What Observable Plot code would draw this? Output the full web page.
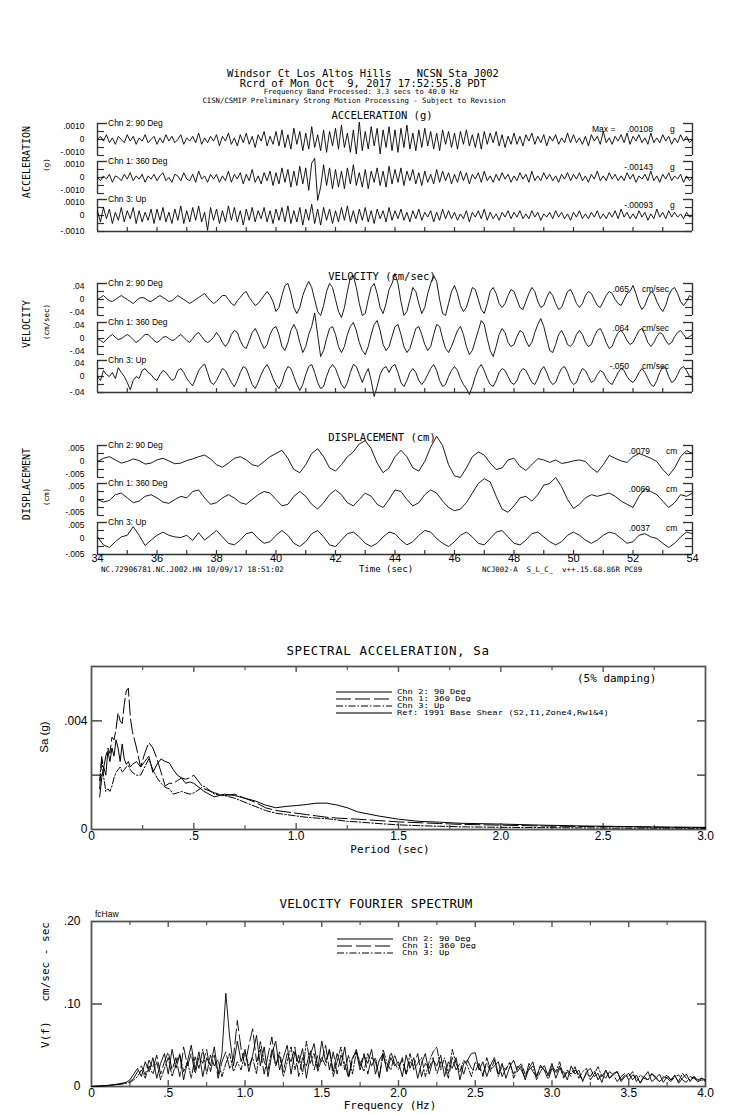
<!DOCTYPE html>
<html><head><meta charset="utf-8">
<script src="https://cdn.jsdelivr.net/npm/d3@7"></script>
<script src="https://cdn.jsdelivr.net/npm/@observablehq/plot@0.6"></script>
<style>
html,body{margin:0;padding:0;background:#fff;}
#root{position:relative;width:739px;height:1115px;overflow:hidden;background:#fff;}
#root svg{position:absolute;}
</style></head><body><div id="root"></div>
<script>
// ---------------- DATA ----------------
const channels = ["Chn 2: 90 Deg", "Chn 1: 360 Deg", "Chn 3: Up"];

// Acceleration traces, 34-54 s, units of 0.0001 g
const accChn2 = [0,2,-1,3,-2,1,-3,2,0,-2,3,-1,2,-3,1,-1,3,-2,0,2,
 -3,1,-2,3,-1,2,-2,0,3,-3,1,-1,2,-2,4,-3,1,-2,2,-1,
 3,-4,2,-1,4,-3,1,-4,3,-2,4,-3,2,-5,3,-1,5,-4,2,-3,
 5,-4,6,-5,3,-6,7,-3,5,-7,4,-6,8,-5,3,-7,6,-8,5,-4,
 7,-6,9,-5,4,-8,6,-9,10.8,-7,5,-6,8,-4,7,-9,6,-5,8,-7,
 6,-8,7,-5,9,-6,4,-7,6,-5,7,-4,5,-6,4,-7,6,-3,5,-5,
 4,-6,5,-3,6,-4,3,-5,4,-6,5,-3,4,-2,5,-4,3,-5,2,-3,
 4,-3,2,-4,3,-1,4,-3,2,-2,3,-4,2,-1,3,-3,1,-2,4,-2,
 3,-2,1,-3,2,-4,3,-1,2,-3,5,-2,1,-3,2,-1,3,-2,4,-3,
 2,-1,3,-2,1,-3,4,-2,1,-2,3,-1,2,-3,1,-2,3,-1,2,-2,0];
const accChn1 = [0,-2,1,-1,2,-3,1,0,-2,2,-1,3,-2,1,-1,2,-3,1,-1,2,
 -2,1,3,-2,0,-3,2,1,-2,3,-1,-2,2,-3,4,-1,1,-3,2,-1,
 2,-3,1,-2,4,-3,2,-1,3,-4,2,-2,5,-3,1,-4,3,-2,4,-5,
 3,-4,6,-3,5,-6,4,-5,7,-4,6,-8,9,12,-14.3,-6,8,-5,6,-7,
 5,-6,4,-7,6,-4,8,-5,3,-6,5,-7,4,-3,6,-5,4,-6,7,-4,
 5,-3,6,-5,4,-2,5,-4,3,-5,4,-3,2,-4,5,-3,4,-2,3,-4,
 2,-3,4,-2,3,-4,2,-1,3,-3,4,-2,1,-3,2,-2,3,-1,2,-3,
 1,-2,3,-1,2,-3,4,-2,1,-2,3,-1,2,-2,1,-3,2,-1,3,-2,
 2,-1,3,-2,1,-3,2,-1,4,-2,1,-2,3,-1,2,-2,1,-2,3,-1,
 2,-3,1,-1,2,-2,4,-2,1,-3,2,-1,3,-2,1,-1,2,-3,1,-2,0];
const accChn3 = [3,-4,5,-2,4,-5,2,-3,5,-4,3,-2,5,-5,3,-4,2,-3,4,-5,
 4,-3,5,-4,2,-5,4,-3,6,-5,3,-4,5,-3,6,-4,2,-9.3,5,-3,
 4,-5,3,-4,6,-3,5,-4,3,-6,4,-3,5,-4,3,-2,5,-4,3,-5,
 4,-3,5,-4,6,-5,3,-4,5,-6,4,-3,7,-5,4,-6,5,-3,4,-5,
 3,-4,5,-3,6,-4,3,-5,4,-3,5,-4,3,-5,4,-2,3,-4,5,-3,
 3,-2,4,-3,2,-4,3,-2,4,-3,2,-1,3,-4,2,-3,4,-2,3,-2,
 2,-3,1,-2,3,-4,2,-1,3,-2,4,-3,2,-2,1,-3,2,-1,3,-2,
 2,-1,3,-2,1,-2,3,-1,2,-3,1,-1,2,-2,3,-1,2,-2,1,-3,
 2,-1,3,-2,1,-2,2,-1,3,-2,1,-2,2,-1,3,-2,4,-1,2,-2,
 1,-2,3,-1,2,-3,1,-2,4,-1,2,-2,3,-1,2,-1,1,-2,2,-1,0];

// Velocity traces, 34-54 s, units of 0.01 cm/sec
const velChn2 = [0,0.5,1,0.3,-0.3,-0.5,0,0.5,1,0.5,0,-0.5,-1,-0.3,0.3,0.5,0.3,-0.3,-0.5,0,
 0.5,1,0.5,0,-0.5,-0.3,0.3,1,0.5,0,-0.5,-1,-0.5,0,0.5,1,1.5,0.5,-0.3,-1,
 -0.5,0.3,1,1,0,-1,-1.5,-0.3,0.5,1.5,2,0.5,-0.5,-1.5,-1,0,1,2,1,-0.5,
 -3,-2,1,3.5,4,1.5,-2,-3.5,-2,1,3,4.5,3,0,-3,-4,-1.5,2,4,3,
 0,-3,-4.5,-2,2,5.5,6,3,-1,-4,-3.5,0,3,4,1.5,-2,-3.5,-1,2.5,4,
 6.5,4,-0.5,-4,-3,0,3,2,-1,-3.5,-2,1.5,4,6,4.5,0,-3.5,-4,-1,2,
 3.5,1.5,-1.5,-3,-2,0.5,3,2.5,0,-2.5,-3.5,-1,2,3,1.5,-1,-2,-1,1,2.5,
 2,0,-2,-2.5,-0.5,1.5,3,2,-0.5,-2,-1.5,0.5,2,1,-1,-2.5,-2,0,2,2.5,
 1,-1,-2,-1,1,2,1.5,0,-1.5,-2,-0.5,1,2,1.5,0,-1,-1.5,0,1.5,2,
 3.5,1.5,-1,-2.5,-1.5,0.5,2,1.5,-0.5,-2,-3,-1.5,1,2.5,3,1.5,-0.5,-1.5,-0.5,1,0.5];
const velChn1 = [0,-0.5,-1,-0.3,0.5,1,0.3,-0.3,0,0.5,1,0.5,-0.3,-1,-0.5,0.3,1,1,0.3,-0.5,
 -1,-0.5,0.3,0.5,0,-0.5,-0.3,0.5,1,0.3,-0.5,-1,0,1,1.5,0.5,-0.5,-1,-0.5,0.3,
 1.5,0.5,-1,-2,-1,1,2,1.5,-0.5,-2,-2.5,-0.5,1.5,2.5,1,-1,-2.5,-1.5,1,2.5,
 3,1,-2,-3,-1,2,3.5,2,-1,-3.5,-2,1,3,6.4,1,-4.5,-3,0,2.5,3,
 1,-2,-3.5,-2,1,3,4,2,-1,-3,-4,-2,1,3.5,4.5,2,-1.5,-3,-2,0.5,
 3,3.5,1,-2,-3.5,-2.5,0,2.5,3,1,-1.5,-3,-2,1,3.5,3,0,-2.5,-3.5,-2,
 0,2,3,1,-2,-4,-3,-0.5,2,4.5,3.5,0,-3,-4.5,-2,1,2.5,1.5,-1,-2,
 -1.5,0.5,2,1.5,-0.5,-2,-1,1.5,3.5,5,3,0,-3,-3.5,-1.5,1,2,0.5,-1.5,-2,
 -1,1,2,1,-1,-2,-1.5,0.5,2,2.5,1,-1,-2.5,-2,0,1.5,2,1,-0.5,-1.5,
 -1,0.5,2,2.5,1,-1,-2,-1,0.5,1.5,1,-0.5,-1.5,-1,0.5,1.5,2,1,0,0.5,1];
const velChn3 = [0,-1,1.5,0.5,0,1,-0.5,2.2,1,0,-1.5,-3.3,-1,0,-0.5,1.5,2,1,0.5,-0.5,
 -1,0.5,1.5,1,0,-1,-0.5,1.5,2,1,-0.5,-1.5,-2.3,-0.5,1.5,2.5,3.1,1,-1.4,-2,
 -1,0.5,2,1.5,0,-1.5,-2.5,-1,1,2.5,2,0,-2,-3,-1.5,0.5,2,3,1.5,-0.5,
 -2,-3,-1.5,1,2.5,2,0,-2,-3.5,-2,0.5,2.5,3,1,-1.5,-3,-2.5,0,2,3,
 2,0,-2,-3,-1.5,1,3,2.5,0.5,-1.5,0.5,2,-1,-5,-2.5,0.5,2,2.5,1,2.5,
 3,1,-1.5,-2.5,-1,1,2,1,-1,-2,-1,0.5,2,3,1.5,-1,-2.5,-2,0,1.5,
 2.5,1.5,-0.5,-2,-3,-4.5,-2.5,0,2,3,1.5,-0.5,-2,-2.5,-1,1,2,1.5,0,-1.5,
 -2,-1,1,2,1.5,0,-1.5,-2,-0.5,1.5,2.5,1,-1,-2,-1.5,0.5,2,2.5,1,-1,
 -2,-1.5,0.5,2,1.5,0,-1.5,-1,0.5,1.5,1,-0.5,-1.5,-2,-0.5,1,2,1.5,0,-1,
 -1.5,-0.5,1,2,1,-0.5,-2,-2.5,-1,1,2.5,2,0,-1.5,-1,0.5,2,2.5,1.5,0,-0.5];

// Displacement traces, 34-54 s, units of 0.001 cm
const dispChn2 = [0,1,1.5,0.5,-0.5,0,0.8,0.3,-0.8,-0.5,
 0.5,1,0.2,-0.7,-0.5,0.3,0.8,1.5,2,0.8,
 -1,-1.8,-0.5,1,1.5,0.5,-1,-1.5,0,1.5,
 2.5,3.5,1,-2.5,-3.5,-1,2.5,4,1.5,-2,
 -3,-1,1.5,3,5.5,6.5,4,-0.5,-3.5,-2,
 1.5,3.5,1.5,-2,-3,0,4.5,7.9,5,-1,
 -4.5,-5,-2,1.5,3,2,-0.5,-2.5,-2,0.5,
 1,-1.5,-2.8,-1,0.9,0.5,-0.3,0.5,-0.6,-0.3,
 0.2,0.5,0,-2,-3.4,-1,1.9,1,0.2,-0.3,
 1.5,2.5,1.8,1,0,-2.5,-4.4,-2,1.5,3.4,2.5];
const dispChn1 = [0,-0.8,-0.3,1.5,2,0.5,-1,-0.5,1,1.5,
 0.5,-0.8,-1.2,0,1,0.5,2.5,3,0.5,-1.5,
 -1,0.5,1.5,0.5,-1,-1.5,0,1.5,2.5,2,
 0,-2,-1.5,1,2.5,1,-1.5,-3,-1,1.5,
 3,1.5,-1,-2,0,2,1,-1.5,-2.5,0,
 3,2.5,0,-2,-1,1.5,3,2,-0.5,-2.5,
 -3.5,-3,-1,2,5,6.5,5.5,1,-3,-4,
 -2,0.5,1,-0.5,1.5,4.5,5,6.9,4,0,
 -2.8,-1.5,0.5,1.5,1,1.5,2,1,-0.5,-1.5,
 -2.5,1,3.4,2.5,1.5,-0.5,-2.5,-1,1.5,1,2];
const dispChn3 = [0.5,-2,-2.8,-1,0.5,1,3.7,1,-2.2,-0.5,
 1,2,1,0.5,0.3,1,-0.6,1.8,-0.5,1,
 2.5,0.5,-1.5,-2,-0.5,1.5,2,0,-1.5,-1,
 1,2.5,1,-1.5,-2.5,-1,1.5,2.5,0.5,-2,
 -2.5,-0.5,1.5,2,0.5,-1.5,-2.5,-1.5,0.5,2,
 1.5,-0.5,-2,-1,1,2.5,2,0,-1.5,-2.5,
 -1,1,2,0.5,-1.5,-2,0,2,2.5,0.5,
 -1.5,-2,-0.5,1.5,2,0.5,-1,-2,-1,1,
 2,1,-0.5,-1.5,-0.5,1,2,1.5,0,-1.5,
 -1,1,1.5,0.5,0,-1.5,-2.8,-1.5,0.5,2,1.5];

const accPeaks = [".00108", "-.00143", "-.00093"];
const velPeaks = [".065", ".064", "-.050"];
const dispPeaks = [".0079", ".0069", ".0037"];
const timeTicks = [34, 36, 38, 40, 42, 44, 46, 48, 50, 52, 54];

// Spectral acceleration (5% damping), period in sec, Sa in 0.001 g
const saPeriods = [0.04,0.05,0.06,0.07,0.08,0.09,0.10,0.11,0.12,0.13,0.14,0.15,0.16,0.17,0.18,0.19,0.20,
 0.22,0.24,0.26,0.28,0.30,0.32,0.34,0.36,0.38,0.40,0.42,0.44,0.46,0.48,0.50,0.55,0.60,0.65,0.70,0.75,
 0.80,0.85,0.90,0.95,1.00,1.05,1.10,1.15,1.20,1.25,1.30,1.40,1.50,1.60,1.70,1.80,2.0,2.2,2.4,2.6,2.8,3.0];
const saChn2 = [1.2,1.9,2.3,2.0,2.9,2.5,3.0,2.7,3.3,3.0,2.5,3.15,2.6,2.4,2.5,2.3,2.4,2.5,2.3,2.5,2.7,2.1,
 2.4,2.6,2.5,2.45,2.2,2.0,1.9,1.7,1.75,1.7,1.4,1.2,1.3,1.25,1.15,1.05,0.9,0.8,0.85,0.88,0.92,0.97,0.97,
 0.9,0.8,0.65,0.5,0.38,0.3,0.27,0.23,0.2,0.16,0.13,0.11,0.09,0.08];
const saChn1 = [1.5,2.6,2.3,2.7,3.0,2.8,3.4,3.3,3.7,4.3,4.0,3.9,4.6,5.1,5.2,4.1,3.6,3.0,2.3,2.8,3.2,3.0,
 2.6,2.1,1.6,1.7,1.7,1.8,1.9,1.85,1.9,2.0,1.5,1.35,1.25,1.3,1.15,1.0,0.8,0.7,0.65,0.6,0.55,0.5,0.45,
 0.42,0.4,0.38,0.33,0.28,0.25,0.22,0.19,0.16,0.13,0.11,0.1,0.08,0.07];
const saChn3 = [1.8,2.7,1.9,1.4,1.5,1.4,1.6,1.9,2.1,2.2,2.3,2.1,2.2,2.3,2.35,2.2,2.1,2.0,2.0,2.3,2.6,2.2,
 1.9,1.7,1.55,1.5,1.3,1.35,1.4,1.35,1.3,1.35,1.6,1.3,1.25,1.15,1.0,0.85,0.7,0.6,0.55,0.5,0.45,0.42,0.4,
 0.35,0.3,0.28,0.22,0.17,0.14,0.12,0.1,0.08,0.07,0.06,0.05,0.05,0.04];
const saLegend = ["Chn 2: 90 Deg", "Chn 1: 360 Deg", "Chn 3: Up", "Ref: 1991 Base Shear (S2,I1,Zone4,Rw1&4)"];
const periodTicks = [0, 0.5, 1.0, 1.5, 2.0, 2.5, 3.0];

// Velocity Fourier spectrum, 0-4 Hz every 0.025 Hz, units 0.001 cm/sec-sec
const fsChn2 = [0,0.3,0.6,1,1.3,1.8,2.5,3,4,5,
 8,15,22,12,30,18,35,10,28,40,
 15,45,22,38,8,30,50,20,42,12,
 35,25,48,15,40,113,60,25,55,30,
 45,18,38,62,25,48,12,40,55,20,
 35,50,15,42,28,46,10,38,52,22,
 55,30,45,18,40,25,48,12,35,42,
 20,38,28,45,15,32,40,18,35,25,
 30,12,38,22,35,10,28,40,15,32,
 25,38,12,30,22,35,8,28,32,40,
 41,20,30,12,26,35,15,28,10,24,
 32,18,25,8,22,30,12,26,20,15,
 28,10,22,18,8,25,15,20,6,18,
 22,12,16,5,20,10,14,18,6,12,
 16,8,14,4,12,18,6,10,15,5,
 12,8,14,4,10,15,6,12,8,10,6];
const fsChn1 = [0,0.2,0.5,0.8,1.2,1.6,2,2.8,3.5,4.5,
 6,10,18,25,14,32,22,38,15,30,
 42,20,35,12,48,25,40,15,36,28,
 45,18,38,10,30,42,22,35,80,45,
 25,50,70,30,45,15,38,60,25,42,
 18,40,30,48,12,35,25,44,20,38,
 30,50,20,42,15,38,28,10,32,45,
 25,40,15,35,30,12,38,22,42,28,
 20,35,15,30,25,40,12,28,22,35,
 15,30,25,10,35,20,28,15,32,22,
 18,28,12,35,20,25,30,12,22,28,
 15,25,20,10,28,18,12,24,20,8,
 22,15,25,10,18,12,20,15,8,16,
 12,20,8,15,10,18,14,6,12,16,
 8,14,10,5,12,8,16,10,6,12,
 10,6,12,14,8,5,12,10,6,8,5];
const fsChn3 = [0,0.2,0.4,0.7,1,1.4,2,2.5,3,4,
 5,8,12,20,10,25,15,30,8,22,
 35,12,28,40,18,30,10,36,22,45,
 15,38,25,32,12,28,40,18,30,20,
 42,25,35,15,55,30,20,45,25,38,
 12,30,48,20,38,15,55,28,40,18,
 35,25,45,12,30,48,20,38,15,42,
 30,18,40,25,35,10,45,28,20,38,
 25,32,15,40,20,28,35,12,30,42,
 48,20,35,15,45,28,18,32,25,12,
 30,22,15,28,18,32,12,25,20,30,
 10,22,28,15,20,25,8,18,26,12,
 25,18,30,12,20,15,24,10,18,22,
 8,15,24,12,20,10,16,18,8,14,
 12,18,6,14,10,8,15,12,6,10,
 14,8,12,6,16,10,8,12,6,10,8];
const fsLegend = ["Chn 2: 90 Deg", "Chn 1: 360 Deg", "Chn 3: Up"];
const freqTicks = [0, 0.5, 1.0, 1.5, 2.0, 2.5, 3.0, 3.5, 4.0];

// ---------------- RENDER ----------------
const root = document.getElementById("root");
const MONO = "'DejaVu Sans Mono', 'Liberation Mono', monospace";
const SANS = "'Liberation Sans', 'DejaVu Sans', sans-serif";
const AX = "#333";
const FR = "#555";
const DASH1 = "15,4";
const DASH3 = "7,2,1.5,2";

function txt(s, x, y, o = {}) {
  const d = document.createElement("div");
  d.textContent = s;
  const size = o.size || 9;
  Object.assign(d.style, {position: "absolute", left: x + "px", top: y + "px", whiteSpace: "pre",
    fontSize: size + "px", fontFamily: o.family || MONO, lineHeight: "1", color: o.color || "#000",
    letterSpacing: (o.ls || 0) + "px"});
  const a = o.anchor || "middle";
  const tx = a === "middle" ? "-50%" : a === "end" ? "-100%" : "0";
  d.style.transform = o.rotate ? `translate(-50%,-50%) rotate(${o.rotate}deg)`
    : `translate(${tx},-50%)` + (o.sy ? ` scaleY(${o.sy})` : "");
  root.append(d);
}

const baseStyle = {background: "transparent", overflow: "visible", fontFamily: SANS, color: "#000"};

// header
txt("Windsor Ct Los Altos Hills    NCSN Sta J002", 363, 73, {size: 10.5});
txt("Rcrd of Mon Oct  9, 2017 17:52:55.8 PDT", 363, 83, {size: 10.5});
txt("Frequency Band Processed: 3.3 secs to 40.0 Hz", 361, 92, {size: 7.2});
txt("CISN/CSMIP Preliminary Strong Motion Processing - Subject to Revision", 354, 100.5, {size: 7.3});

const FW = 739 - 97 - 47;
const HALF = 16;
function tracePlot(vals, unit, amp, fmt, zeroY, isBottom, withLabels) {
  const mt = 12, mb = isBottom ? 26 : 12, fh = 2 * HALF;
  const n = vals.length, dt = 20 / (n - 1);
  const data = vals.map((v, i) => ({t: 34 + i * dt, v: v * unit}));
  const yAx = (ticks, dy) => Plot.axisY({ticks, tickFormat: fmt, tickSize: 0, tickPadding: 13, label: null, fontSize: 8.5, dy});
  const marks = [
    Plot.ruleX([34, 54], {stroke: AX, strokeWidth: 1.4}),
    Plot.ruleY([amp], {stroke: AX, strokeWidth: 1.4, insetRight: FW - 10}),
    Plot.ruleY([amp], {stroke: AX, strokeWidth: 1.4, insetLeft: FW - 9}),
    Plot.ruleY([amp / 2, 0, -amp / 2, -amp], {stroke: AX, strokeWidth: 1.2, insetRight: FW - 7}),
    Plot.ruleY([amp / 2, 0, -amp / 2, -amp], {stroke: AX, strokeWidth: 1.2, insetLeft: FW - 7}),
    yAx([amp], 3), yAx([0], 0), yAx([-amp], isBottom ? 0 : -3),
    Plot.line(data, {x: "t", y: "v", stroke: "#000", strokeWidth: 0.9, strokeLinejoin: "round"})
  ];
  if (isBottom) {
    marks.push(Plot.ruleY([-amp], {stroke: AX, strokeWidth: 1.4}));
    marks.push(Plot.ruleX(d3.range(35, 54, 1), {stroke: AX, strokeWidth: 1.2, insetTop: fh - 4}));
  }
  if (withLabels) marks.push(Plot.axisX({ticks: timeTicks, tickSize: 0, tickPadding: 0, label: null, fontSize: 11}));
  const p = Plot.plot({
    width: 739, height: mt + fh + mb, marginLeft: 97, marginRight: 47, marginTop: mt, marginBottom: mb,
    x: withLabels ? {domain: [34, 54]} : {domain: [34, 54], axis: null},
    y: {domain: [-amp, amp]},
    style: baseStyle, marks
  });
  p.style.left = "0px";
  p.style.top = (zeroY - HALF - mt) + "px";
  root.append(p);
}

const sections = [
  {series: [accChn2, accChn1, accChn3], unit: 1e-4, amp: 0.001, zeros: [138.5, 176.5, 214.5],
   fmt: v => v === 0 ? "0" : v > 0 ? ".0010" : "-.0010", peaks: accPeaks, valEnd: 653, unitX: 670, unitLabel: "g",
   title: "ACCELERATION (g)", titleY: 115, side: "ACCELERATION", sideUnit: "(g)", sideY: 162, sideUnitY: 165},
  {series: [velChn2, velChn1, velChn3], unit: 1e-2, amp: 0.04, zeros: [299, 337.5, 376],
   fmt: v => v === 0 ? "0" : v > 0 ? ".04" : "-.04", peaks: velPeaks, valEnd: 629, unitX: 642, unitLabel: "cm/sec",
   title: "VELOCITY (cm/sec)", titleY: 276, side: "VELOCITY", sideUnit: "(cm/sec)", sideY: 324, sideUnitY: 322},
  {series: [dispChn2, dispChn1, dispChn3], unit: 1e-3, amp: 0.005, zeros: [461, 499, 537.5],
   fmt: v => v === 0 ? "0" : v > 0 ? ".005" : "-.005", peaks: dispPeaks, valEnd: 650, unitX: 666, unitLabel: "cm",
   title: "DISPLACEMENT (cm)", titleY: 437, side: "DISPLACEMENT", sideUnit: "(cm)", sideY: 484, sideUnitY: 497}
];

sections.forEach((s, si) => {
  s.series.forEach((vals, ci) => {
    tracePlot(vals, s.unit, s.amp, s.fmt, s.zeros[ci], ci === 2, si === 2 && ci === 2);
    txt(channels[ci], 108, s.zeros[ci] - HALF, {size: 8.5, family: SANS, anchor: "start"});
    txt(s.peaks[ci], s.valEnd, s.zeros[ci] - 10, {size: 8.5, family: SANS, anchor: "end"});
    txt(s.unitLabel, s.unitX, s.zeros[ci] - 10, {size: 8.5, family: SANS, anchor: "start"});
  });
  if (si === 0) txt("Max =", 592, s.zeros[0] - 10, {size: 8.5, family: SANS, anchor: "start"});
  txt(s.title, 382, s.titleY, {size: 10.5});
  txt(s.side, 27, s.sideY, {size: 10, rotate: -90});
  txt(s.sideUnit, 47, s.sideUnitY, {size: 7.5, rotate: -90});
});

txt("Time (sec)", 386, 569, {size: 9});
txt("NC.72906781.NC.J002.HN 10/09/17 18:51:02", 101, 570, {size: 7.6, anchor: "start"});
txt("NCJ002-A  S_L_C_  v++.15.68.86R PC89", 482, 570, {size: 7.4, anchor: "start"});

// ---- Spectral acceleration ----
function numFmt(d) { return d === 0 ? "0" : d < 1 ? "." + Math.round(d * 10) : d.toFixed(1); }
{
  const mt = 10, fh = 163, mb = 28, fw = 739 - 91 - 34;
  const rows = k => saPeriods.map((T, i) => ({T, v: k[i] * 1e-3}));
  const maj = [0.5, 1, 1.5, 2, 2.5], mino = [0.25, 0.75, 1.25, 1.75, 2.25, 2.75];
  const p = Plot.plot({
    width: 739, height: mt + fh + mb, marginLeft: 91, marginRight: 34, marginTop: mt, marginBottom: mb,
    x: {domain: [0, 3]}, y: {domain: [0, 0.006]}, style: baseStyle,
    marks: [
      Plot.frame({stroke: FR, strokeWidth: 1.8}),
      Plot.ruleX(maj, {stroke: FR, strokeWidth: 1.4, insetBottom: fh - 6}),
      Plot.ruleX(mino, {stroke: FR, strokeWidth: 1.2, insetBottom: fh - 4}),
      Plot.ruleX(maj, {stroke: FR, strokeWidth: 1.4, insetTop: fh - 6}),
      Plot.ruleX(mino, {stroke: FR, strokeWidth: 1.2, insetTop: fh - 4}),
      Plot.ruleY([0.002, 0.004], {stroke: FR, strokeWidth: 1.6, insetRight: fw - 11}),
      Plot.ruleY([0.002, 0.004], {stroke: FR, strokeWidth: 1.6, insetLeft: fw - 8}),
      Plot.axisX({ticks: periodTicks, tickFormat: numFmt, tickSize: 0, tickPadding: 2, label: null, fontSize: 12}),
      Plot.axisY({ticks: [0, 0.004], tickFormat: d => d === 0 ? "0" : ".004", tickSize: 0, tickPadding: 4, label: null, fontSize: 12}),
      Plot.line(rows(saChn2), {x: "T", y: "v", stroke: "#000", strokeWidth: 1}),
      Plot.line(rows(saChn1), {x: "T", y: "v", stroke: "#000", strokeWidth: 1, strokeDasharray: DASH1}),
      Plot.line(rows(saChn3), {x: "T", y: "v", stroke: "#000", strokeWidth: 1, strokeDasharray: DASH3})
    ]
  });
  p.style.left = "0px"; p.style.top = (666 - mt) + "px";
  root.append(p);
}
txt("SPECTRAL ACCELERATION, Sa", 388, 651, {size: 12.5, ls: 0.6});
txt("(5% damping)", 577, 678, {size: 11, anchor: "start"});
txt("Sa (g)", 45, 737, {size: 11.5, family: SANS, rotate: -90});
txt("Period (sec)", 390, 849, {size: 11});

// ---- Velocity Fourier spectrum ----
{
  const mt = 10, fh = 165, mb = 28, fw = 739 - 91 - 34;
  const rows = k => k.map((v, i) => ({f: i * 0.025, v: v * 1e-3}));
  const maj = [0.5, 1, 1.5, 2, 2.5, 3, 3.5], mino = [0.25, 0.75, 1.25, 1.75, 2.25, 2.75, 3.25, 3.75];
  const p = Plot.plot({
    width: 739, height: mt + fh + mb, marginLeft: 91, marginRight: 34, marginTop: mt, marginBottom: mb,
    x: {domain: [0, 4]}, y: {domain: [0, 0.2]}, style: baseStyle,
    marks: [
      Plot.frame({stroke: FR, strokeWidth: 1.8}),
      Plot.ruleX(maj, {stroke: FR, strokeWidth: 1.4, insetBottom: fh - 6}),
      Plot.ruleX(mino, {stroke: FR, strokeWidth: 1.2, insetBottom: fh - 4}),
      Plot.ruleX(maj, {stroke: FR, strokeWidth: 1.4, insetTop: fh - 6}),
      Plot.ruleX(mino, {stroke: FR, strokeWidth: 1.2, insetTop: fh - 4}),
      Plot.ruleY([0.1], {stroke: FR, strokeWidth: 1.6, insetRight: fw - 11}),
      Plot.ruleY([0.1], {stroke: FR, strokeWidth: 1.6, insetLeft: fw - 8}),
      Plot.axisX({ticks: freqTicks, tickFormat: numFmt, tickSize: 0, tickPadding: 2, label: null, fontSize: 12}),
      Plot.axisY({ticks: [0, 0.1, 0.2], tickFormat: d => d === 0 ? "0" : d === 0.1 ? ".10" : ".20", tickSize: 0, tickPadding: 11, label: null, fontSize: 12}),
      Plot.line(rows(fsChn2), {x: "f", y: "v", stroke: "#000", strokeWidth: 0.9}),
      Plot.line(rows(fsChn1), {x: "f", y: "v", stroke: "#000", strokeWidth: 0.9, strokeDasharray: DASH1}),
      Plot.line(rows(fsChn3), {x: "f", y: "v", stroke: "#000", strokeWidth: 0.9, strokeDasharray: DASH3})
    ]
  });
  p.style.left = "0px"; p.style.top = (921 - mt) + "px";
  root.append(p);
}
txt("VELOCITY FOURIER SPECTRUM", 376, 904, {size: 12.5, ls: 0.2});
txt("fcHaw", 95, 914, {size: 8.5, family: SANS, anchor: "start"});
txt("V(f)   cm/sec - sec", 45, 985, {size: 11, rotate: -90});
txt("Frequency (Hz)", 390, 1105, {size: 11});

// ---- legends ----
const lg = d3.create("svg").attr("width", 739).attr("height", 1115)
  .style("left", "0px").style("top", "0px").style("pointer-events", "none");
const saY = [692, 699, 706, 713];
const styles = [{d: null, c: "#000", w: 1.1}, {d: DASH1, c: "#000", w: 1.1}, {d: DASH3, c: "#000", w: 1.1}, {d: null, c: "#777", w: 2}];
saLegend.forEach((s, i) => {
  lg.append("line").attr("x1", 336).attr("x2", 392).attr("y1", saY[i]).attr("y2", saY[i])
    .attr("stroke", styles[i].c).attr("stroke-width", styles[i].w).attr("stroke-dasharray", styles[i].d);
  txt(s, 397, saY[i] - 0.5, {size: 8.8, anchor: "start", sy: 0.75});
});
const fsY = [939, 946, 953];
fsLegend.forEach((s, i) => {
  lg.append("line").attr("x1", 337).attr("x2", 393).attr("y1", fsY[i]).attr("y2", fsY[i])
    .attr("stroke", styles[i].c).attr("stroke-width", styles[i].w).attr("stroke-dasharray", styles[i].d);
  txt(s, 402, fsY[i] - 0.5, {size: 8.8, anchor: "start", sy: 0.75});
});
root.append(lg.node());
</script></body></html>
